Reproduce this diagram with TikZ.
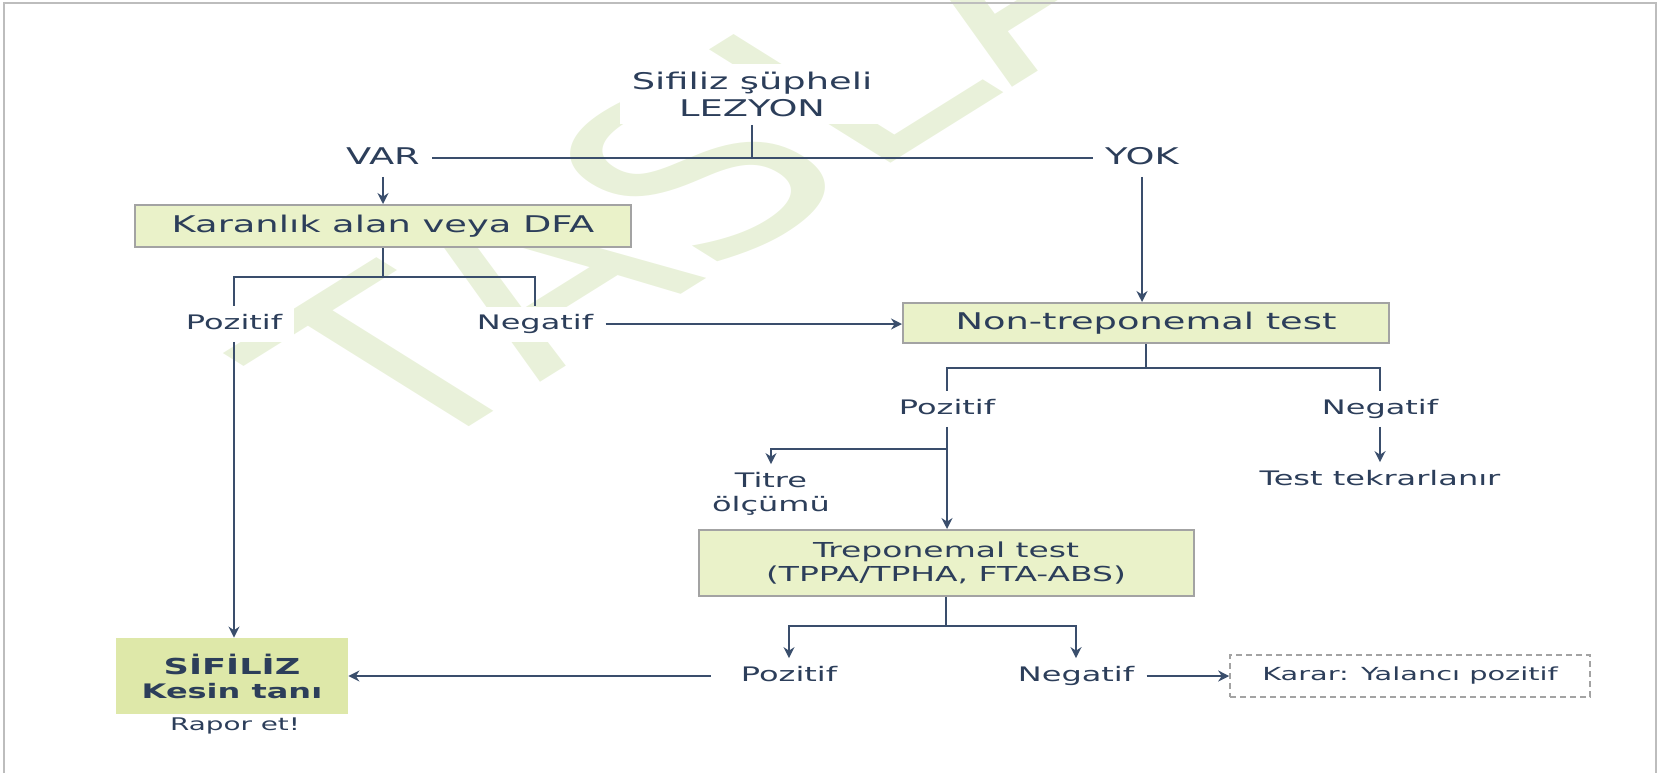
\documentclass[tikz,border=0pt]{standalone}
\usepackage{fontspec}
\setmainfont{DejaVu Sans}[FakeStretch=1.6]
\newfontfamily\wmfont{DejaVu Sans}
\usepackage{xcolor}
\usetikzlibrary{arrows.meta,positioning}

\definecolor{inkblue}{HTML}{2C3E5A}
\definecolor{linkblue}{HTML}{3A4E6C}
\definecolor{boxfill}{HTML}{EAF2C9}
\definecolor{diagfill}{HTML}{DEE8A9}
\definecolor{boxedge}{HTML}{A3A3A3}
\definecolor{wmgreen}{HTML}{E9F1DA}
\definecolor{framegray}{HTML}{BDBDBD}

\newcommand{\boxfont}{\fontsize{11.5}{13.5}\selectfont}
\newcommand{\lblfont}{\fontsize{10}{12}\selectfont}

\begin{document}
\begin{tikzpicture}[x=0.5pt,y=-0.5pt,
  testbox/.style={draw=boxedge,line width=1pt,fill=boxfill,text=inkblue,
                  font=\boxfont,minimum height=21pt,inner sep=0pt,align=center},
  lbl/.style={text=inkblue,font=\lblfont,fill=white,inner xsep=6pt,
              inner ysep=4pt,text height=7.5pt,text depth=2pt},
  biglbl/.style={lbl,font=\boxfont,text height=8.5pt},
  stack/.style={text=inkblue,fill=white,align=center,inner xsep=6pt,inner ysep=4pt},
  conn/.style={draw=linkblue,line width=1.2pt},
  arr/.style={conn,line width=1.4pt,-{Stealth[length=5.5pt,width=5.5pt]}},
  wmark/.style={font=\wmfont\fontsize{110}{110}\selectfont,text=wmgreen,
                anchor=base west,inner sep=0pt,xscale=1.6,rotate=45}
]
\useasboundingbox (0,0) rectangle (1658,773);
% watermark
\node[wmark] (wm) at (405,467) {TASLAK};
\draw[framegray,line width=1.2pt] (4,773) -- (4,3) -- (1656,3) -- (1656,773);
% Lesion
\node[stack,font=\boxfont] (lez) at (752,94) {Sifiliz şüpheli\\LEZYON};
\node[biglbl] (var) at (383,158) {VAR};
\node[biglbl] (yok) at (1142,158) {YOK};
\draw[conn] (var) -- (yok);
\draw[conn] (lez.south) -- (lez.south |- var.center);
% Dark field
\node[testbox,minimum width=248pt] (kar) at (383,226) {Karanlık alan veya DFA};
\draw[arr] (var) -- (kar);
\node[lbl] (kpoz) at (234,324) {Pozitif};
\node[lbl] (kneg) at (535,324) {Negatif};
\draw[conn] (kar.south) -- ++(0,29) -| (kpoz.north);
\draw[conn] (kar.south) ++(0,29) -| (kneg.north);
% Non-treponemal
\node[testbox,minimum width=243pt,minimum height=20pt] (ntt) at (1146,323) {Non-treponemal test};
\draw[arr] (yok) -- (yok |- ntt.north);
\draw[arr] (kneg) -- (kneg -| ntt.west);
\node[lbl] (npoz) at (947,409) {Pozitif};
\node[lbl] (nneg) at (1380,409) {Negatif};
\draw[conn] (ntt.south) -- ++(0,24) -| (npoz.north);
\draw[conn] (ntt.south) ++(0,24) -| (nneg.north);
\node[lbl] (tekrar) at (1380,480) {Test tekrarlanır};
\draw[arr] (nneg) -- (tekrar);
\node[stack,font=\lblfont] (titre) at (771,494) {Titre\\ölçümü};
\draw[arr] (npoz.south) ++(0,22) -| (titre.north);
% Treponemal
\node[testbox,font=\fontsize{10.3}{12}\selectfont,minimum width=247.5pt,
      minimum height=33pt] (trep) at (946,563) {Treponemal test\\(TPPA/TPHA, FTA-ABS)};
\draw[arr] (npoz) -- (npoz |- trep.north);
\node[lbl] (tpoz) at (789,676) {Pozitif};
\node[lbl] (tneg) at (1076,676) {Negatif};
\draw[arr] (trep.south) -- ++(0,29) -| (tpoz.north);
\draw[arr] (trep.south) ++(0,29) -| (tneg.north);
% Results
\node[fill=diagfill,text=inkblue,font=\bfseries,align=center,minimum width=116pt,
      minimum height=38pt,inner sep=0pt] (sif) at (232,676)
    {{\fontsize{11}{12}\selectfont SİFİLİZ}\\{\fontsize{10}{12}\selectfont Kesin tanı}};
\node[text=inkblue,font=\fontsize{8.7}{10}\selectfont] (rapor) at (235,726) {Rapor et!};
\draw[arr] (kpoz) -- (kpoz |- sif.north);
\draw[arr,shorten <=9pt] (tpoz) -- (sif);
\node[draw=boxedge,dash pattern=on 3pt off 2pt,line width=0.8pt,text=inkblue,
      font=\fontsize{9}{11}\selectfont,minimum width=180pt,minimum height=21pt]
    (karar) at (1410,676) {Karar: Yalancı pozitif};
\draw[arr] (tneg) -- (karar);
\end{tikzpicture}
\end{document}
